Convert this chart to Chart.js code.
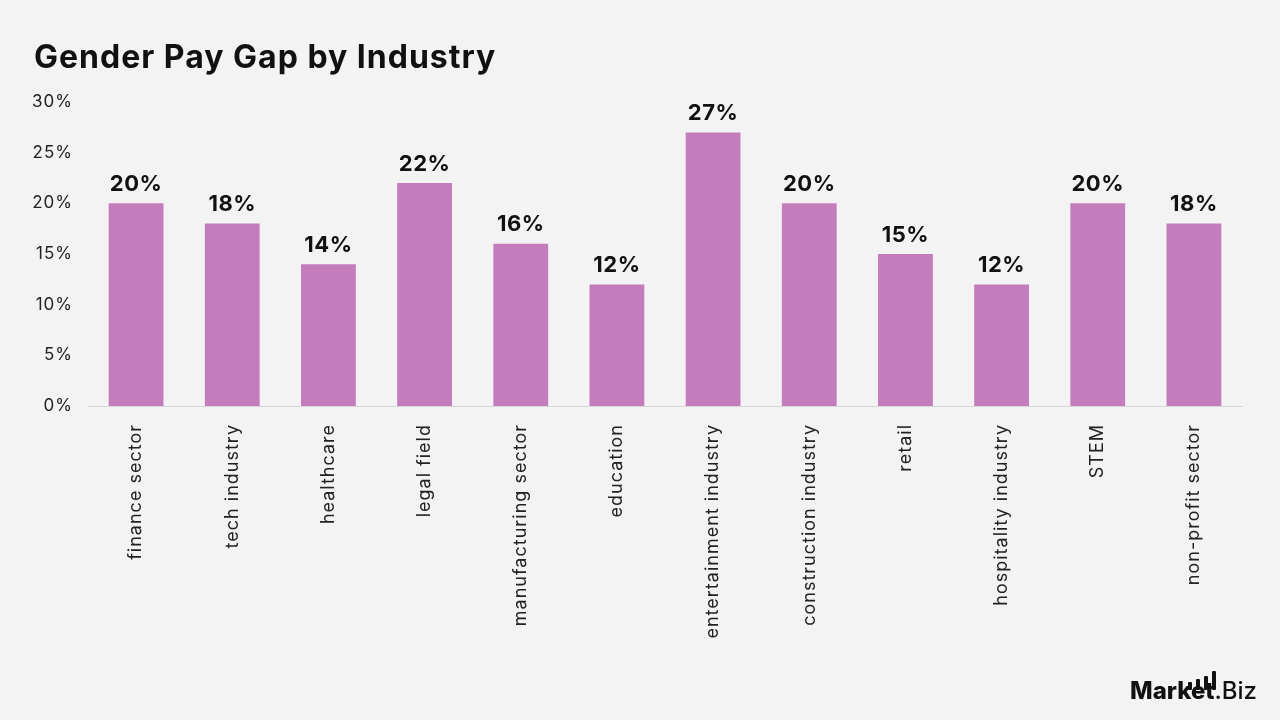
<!DOCTYPE html>
<html>
<head>
<meta charset="utf-8">
<script src="https://cdn.jsdelivr.net/npm/chart.js@4.4.1/dist/chart.umd.min.js"></script>
<style>
  html, body { margin: 0; padding: 0; background: #f3f3f3; }
  #wrap { position: relative; width: 1280px; height: 720px; overflow: hidden; }
  #title {
    position: absolute; left: 34px; top: 37px; margin: 0;
    font-family: "Inter", "DejaVu Sans", sans-serif; font-weight: 700; font-size: 32px;
    color: #111; letter-spacing: 1px;
  }
  #logo {
    position: absolute; left: 1130px; top: 676px;
    font-family: "Inter", sans-serif; font-size: 24px; color: #111; line-height: 30px;
  }
  #logo b { font-weight: 800; }
  #logo .biz { font-weight: 500; }
  #logo .bars { position: absolute; left: 58px; top: -6px; width: 36px; height: 20px; }
  #logo .bars i { position: absolute; bottom: 0; width: 4px; background: #111; border-radius: 1px; }
</style>
</head>
<body>
<div id="wrap">
  <canvas id="payGapChart" width="1280" height="720"></canvas>
  <div id="title">Gender Pay Gap by Industry</div>
  <div id="logo">
    <span class="bars"><i style="left:0;height:8px"></i><i style="left:8px;height:11px"></i><i style="left:16px;height:14px"></i><i style="left:24px;height:19px"></i></span>
    <b>Market</b><span class="biz">.Biz</span>
  </div>
</div>
<script>
const industries = ["finance sector", "tech industry", "healthcare", "legal field", "manufacturing sector",
  "education", "entertainment industry", "construction industry", "retail", "hospitality industry",
  "STEM", "non-profit sector"];
const payGap = [20, 18, 14, 22, 16, 12, 27, 20, 15, 12, 20, 18];
const yTicks = [0, 5, 10, 15, 20, 25, 30];

const fontFamily = "Inter, 'DejaVu Sans', sans-serif";

// wider letters for the axis text (the original uses a wide geometric font)
const spacing = {
  id: "spacing",
  beforeLayout(chart) { chart.ctx.letterSpacing = "1px"; },
  beforeDraw(chart) { chart.ctx.letterSpacing = "1px"; }
};

// draw the "20%" labels above each bar
const barLabels = {
  id: "barLabels",
  afterDatasetsDraw(chart) {
    const ctx = chart.ctx;
    const meta = chart.getDatasetMeta(0);
    ctx.save();
    ctx.letterSpacing = "0.5px";
    ctx.font = "bold 22px " + fontFamily;
    ctx.fillStyle = "#111";
    ctx.textAlign = "center";
    ctx.textBaseline = "bottom";
    meta.data.forEach((bar, i) => {
      ctx.fillText(payGap[i] + "%", bar.x, bar.y - 8);
    });
    ctx.restore();
  }
};

const ctx = document.getElementById("payGapChart").getContext("2d");
const payGapChart = new Chart(ctx, {
  type: "bar",
  data: {
    labels: industries,
    datasets: [{
      data: payGap,
      backgroundColor: "#c47dbc",
      categoryPercentage: 0.57,
      barPercentage: 1
    }]
  },
  options: {
    responsive: false,
    animation: false,
    layout: { padding: { left: 20, right: 38, top: 102, bottom: 20 } },
    plugins: { legend: { display: false }, tooltip: { enabled: false } },
    scales: {
      x: {
        grid: { display: false },
        border: { display: true, color: "#d6d6d6", width: 1 },
        ticks: {
          minRotation: 90, maxRotation: 90, autoSkip: false, padding: 10,
          color: "#222", font: { family: fontFamily, size: 18 }
        },
        afterFit(axis) { axis.height = 294; }
      },
      y: {
        min: 0, max: 30,
        afterBuildTicks(axis) { axis.ticks = yTicks.map(v => ({ value: v })); },
        grid: { display: false },
        border: { display: false },
        ticks: {
          padding: 7, color: "#222",
          font: { family: fontFamily, size: 17 },
          callback: v => v + "%"
        },
        afterFit(axis) { axis.width = 68; }
      }
    }
  },
  plugins: [spacing, barLabels]
});
</script>
</body>
</html>
